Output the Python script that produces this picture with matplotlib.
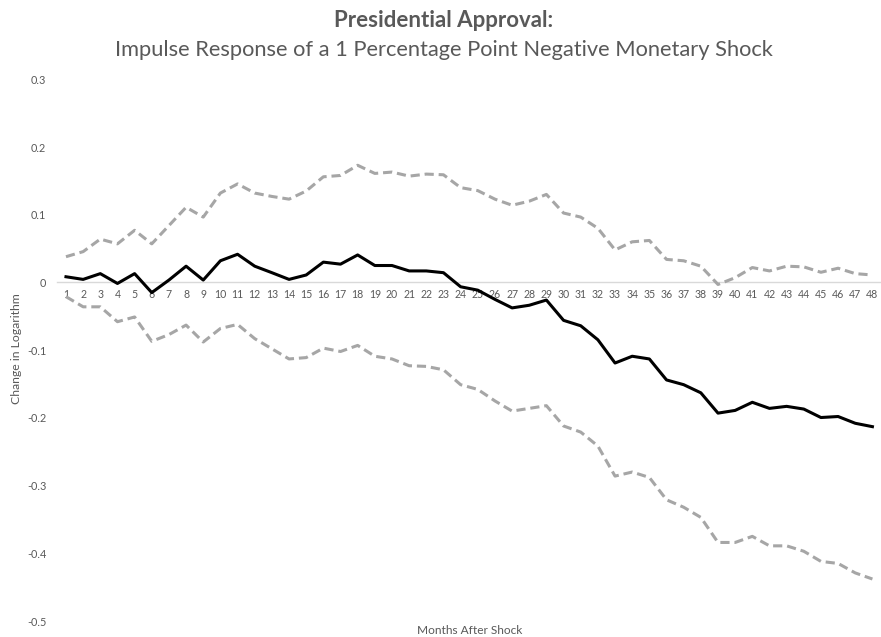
import matplotlib
matplotlib.use("Agg")
import matplotlib.pyplot as plt

months = list(range(1, 49))

response = [0.0084, 0.0045, 0.013, -0.0015, 0.013, -0.015, 0.0035, 0.024, 0.0035, 0.032,
            0.0416, 0.024, 0.0144, 0.0045, 0.011, 0.030, 0.027, 0.0406, 0.025, 0.025,
            0.017, 0.017, 0.0144, -0.0064, -0.0114, -0.025, -0.0376, -0.0337, -0.026, -0.056,
            -0.064, -0.0847, -0.119, -0.109, -0.113, -0.144, -0.151, -0.163, -0.193, -0.189,
            -0.177, -0.186, -0.183, -0.187, -0.1995, -0.198, -0.208, -0.213]

upper = [0.038, 0.0455, 0.064, 0.057, 0.077, 0.057, 0.084, 0.111, 0.0965, 0.132,
         0.1455, 0.132, 0.127, 0.123, 0.135, 0.156, 0.158, 0.173, 0.161, 0.163,
         0.157, 0.160, 0.159, 0.140, 0.1356, 0.123, 0.114, 0.120, 0.130, 0.1025,
         0.0965, 0.080, 0.048, 0.060, 0.062, 0.034, 0.032, 0.024, -0.003, 0.007,
         0.022, 0.017, 0.024, 0.023, 0.015, 0.021, 0.013, 0.011]

lower = [-0.021, -0.036, -0.036, -0.058, -0.051, -0.087, -0.077, -0.063, -0.088, -0.068,
         -0.062, -0.083, -0.098, -0.113, -0.111, -0.097, -0.102, -0.093, -0.109, -0.113,
         -0.123, -0.124, -0.129, -0.151, -0.158, -0.175, -0.190, -0.186, -0.182, -0.212,
         -0.221, -0.2416, -0.286, -0.280, -0.288, -0.321, -0.332, -0.347, -0.384, -0.384,
         -0.375, -0.389, -0.389, -0.397, -0.412, -0.415, -0.429, -0.438]

y_ticks = [0.3, 0.2, 0.1, 0.0, -0.1, -0.2, -0.3, -0.4, -0.5]
y_tick_labels = ["0.3", "0.2", "0.1", "0", "-0.1", "-0.2", "-0.3", "-0.4", "-0.5"]

title_main = "Presidential Approval:"
title_sub = "Impulse Response of a 1 Percentage Point Negative Monetary Shock"
x_label = "Months After Shock"
y_label = "Change in Logarithm"

TEXT = "#595959"
GREY = "#A6A6A6"
plt.rcParams['font.family'] = ['Lato', 'DejaVu Sans']

W, H = 881, 637
fig = plt.figure(figsize=(W / 100, H / 100), dpi=100)
left_px, right_px = 57.4, 881.0
top_px, bot_px = 79.3, 621.0
ax = fig.add_axes([left_px / W, 1 - bot_px / H, (right_px - left_px) / W, (bot_px - top_px) / H])

dash = (3.0, 1.6)
ax.plot(months, upper, color=GREY, lw=2.2, linestyle=(0, dash), zorder=2)
ax.plot(months, lower, color=GREY, lw=2.2, linestyle=(0, dash), zorder=2)
ax.plot(months, response, color="black", lw=2.2, zorder=3)

ax.set_xlim(0.5, 48.5)
ax.set_ylim(-0.5, 0.3)

for s in ['top', 'right', 'left']:
    ax.spines[s].set_visible(False)
ax.spines['bottom'].set_position(('data', 0))
ax.spines['bottom'].set_color("#D9D9D9")
ax.spines['bottom'].set_linewidth(1.0)
ax.spines['bottom'].set_zorder(1)

ax.set_xticks(months)
ax.set_xticklabels([str(m) for m in months])
ax.set_yticks(y_ticks)
ax.set_yticklabels(y_tick_labels)
ax.tick_params(axis='x', length=0, pad=4.5, labelsize=7.6, colors=TEXT)
ax.tick_params(axis='y', length=0, pad=8, labelsize=7.8, colors=TEXT)
for lab in ax.get_xticklabels():
    lab.set_zorder(1)

t_y = fig.text(16.5 / W, 1 - 349 / H, y_label, rotation=90, ha='center', va='center',
               color=TEXT, fontsize=8)
t_x = fig.text(470 / W, 1 - 630 / H, x_label, ha='center', va='center', color=TEXT, fontsize=8)
t_main = fig.text(444 / W, 1 - 20.5 / H, title_main, ha='center', va='center', color=TEXT,
                  fontsize=13.5, fontweight='bold')
t_sub = fig.text(444 / W, 1 - 50 / H, title_sub, ha='center', va='center', color=TEXT,
                 fontsize=13.5)

# scale font sizes so text extents match the reference
renderer = fig.canvas.get_renderer()
for t, target, dim in [(t_y, 112, 'h'), (t_x, 106, 'w'), (t_main, 219, 'w'), (t_sub, 660, 'w')]:
    bb = t.get_window_extent(renderer)
    cur = bb.height if dim == 'h' else bb.width
    t.set_fontsize(t.get_fontsize() * target / cur)

fig.savefig("out.png", dpi=100)
